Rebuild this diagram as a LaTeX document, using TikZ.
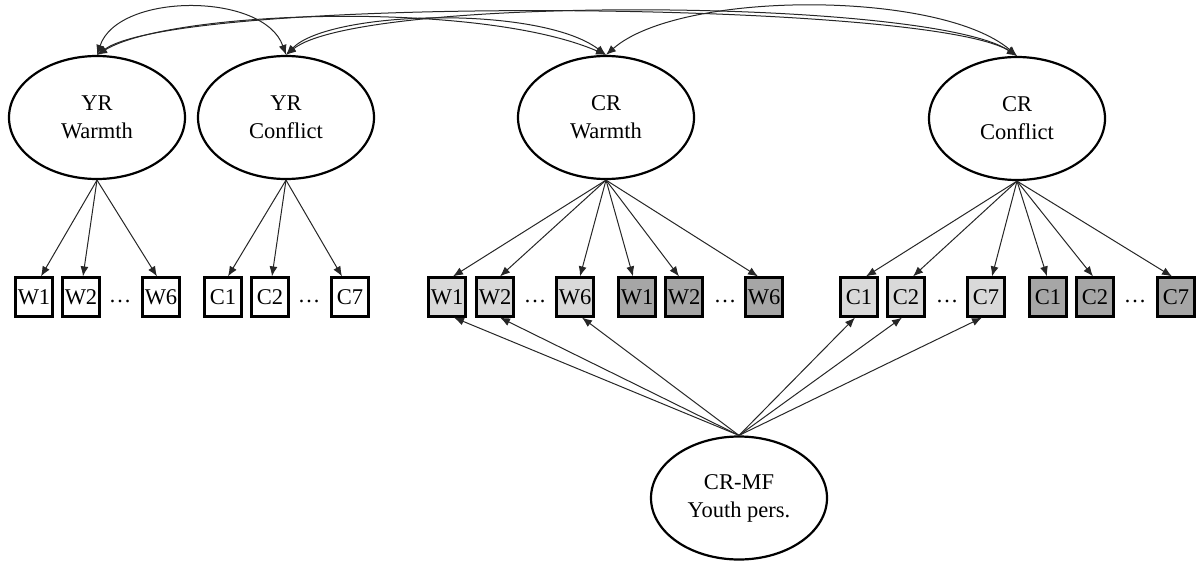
\documentclass[tikz,border=0pt]{standalone}
\usepackage{fontspec}
\setmainfont{Liberation Serif}
\usetikzlibrary{shapes.geometric,arrows.meta}
\definecolor{lightbox}{HTML}{D9D9D9}
\definecolor{darkbox}{HTML}{A6A6A6}
\begin{document}
\begin{tikzpicture}[x=1pt,y=-1pt,
  latent/.style={ellipse,draw,line width=2.2pt,minimum width=176pt,minimum height=123pt,inner sep=0pt,align=center,font=\fontsize{22.5}{28}\selectfont},
  ind/.style={rectangle,draw,line width=2.2pt,minimum width=37pt,minimum height=39pt,inner sep=0pt,font=\fontsize{22.5}{27}\selectfont},
  lind/.style={ind,fill=lightbox},
  dind/.style={ind,fill=darkbox},
  dotsnode/.style={inner sep=0pt,font=\fontsize{22.5}{27}\selectfont},
  load/.style={-{Latex[length=10pt,width=8pt]},line width=1pt,draw=black!85},
  cov/.style={{Latex[length=10pt,width=8pt]}-{Latex[length=10pt,width=8pt]},line width=1pt,draw=black!85}
]
\useasboundingbox (0,0) rectangle (1198,562);

% latent variables
\node[latent] (A) at (97,117.5) {YR\\Warmth};
\node[latent] (B) at (286,117.5) {YR\\Conflict};
\node[latent] (C) at (606,117.5) {CR\\Warmth};
\node[latent] (D) at (1017,118.5) {CR\\Conflict};
\node[latent] (M) at (739,498) {CR-MF\\Youth pers.};

% indicators
\node[ind] (yw1) at (34,297) {W1};
\node[ind] (yw2) at (81,297) {W2};
\node[dotsnode] (ywd) at (120,301) {…};
\node[ind] (yw6) at (161,297) {W6};
\node[ind] (yc1) at (223,297) {C1};
\node[ind] (yc2) at (270,297) {C2};
\node[dotsnode] (ycd) at (309,301) {…};
\node[ind] (yc7) at (350,297) {C7};

\node[lind] (lw1) at (447,297) {W1};
\node[lind] (lw2) at (495,297) {W2};
\node[dotsnode] (lwd) at (535,301) {…};
\node[lind] (lw6) at (575,297) {W6};
\node[dind] (dw1) at (637,297) {W1};
\node[dind] (dw2) at (684,297) {W2};
\node[dotsnode] (dwd) at (725,301) {…};
\node[dind] (dw6) at (764,297) {W6};

\node[lind] (lc1) at (859,297) {C1};
\node[lind] (lc2) at (906,297) {C2};
\node[dotsnode] (lcd) at (947,301) {…};
\node[lind] (lc7) at (986,297) {C7};
\node[dind] (dc1) at (1048,297) {C1};
\node[dind] (dc2) at (1095,297) {C2};
\node[dotsnode] (dcd) at (1135,301) {…};
\node[dind] (dc7) at (1176,297) {C7};

% loadings
\draw[load] (A.south) -- ([xshift=7pt]yw1.north);
\draw[load] (A.south) -- ([xshift=2pt]yw2.north);
\draw[load] (A.south) -- ([xshift=-4pt]yw6.north);
\draw[load] (B.south) -- ([xshift=5pt]yc1.north);
\draw[load] (B.south) -- ([xshift=2pt]yc2.north);
\draw[load] (B.south) -- ([xshift=-8pt]yc7.north);

\draw[load] (C.south) -- ([xshift=6pt]lw1.north);
\draw[load] (C.south) -- ([xshift=5pt]lw2.north);
\draw[load] (C.south) -- ([xshift=5pt]lw6.north);
\draw[load] (C.south) -- ([xshift=-4pt]dw1.north);
\draw[load] (C.south) -- ([xshift=-5pt]dw2.north);
\draw[load] (C.south) -- ([xshift=-6pt]dw6.north);

\draw[load] (D.south) -- ([xshift=7pt]lc1.north);
\draw[load] (D.south) -- ([xshift=7pt]lc2.north);
\draw[load] (D.south) -- ([xshift=6pt]lc7.north);
\draw[load] (D.south) -- ([xshift=-1pt]dc1.north);
\draw[load] (D.south) -- ([xshift=-2pt]dc2.north);
\draw[load] (D.south) -- ([xshift=-4pt]dc7.north);

% method factor
\draw[load] (M.north) -- ([xshift=7pt]lw1.south);
\draw[load] (M.north) -- ([xshift=5pt]lw2.south);
\draw[load] (M.north) -- ([xshift=7pt]lw6.south);
\draw[load] (M.north) -- ([xshift=-4pt]lc1.south);
\draw[load] (M.north) -- ([xshift=-4pt]lc2.south);
\draw[load] (M.north) -- ([xshift=-4pt]lc7.south);

% covariances
\draw[cov] (A.north) .. controls (118,-8) and (264,-8) .. (B.north);
\draw[cov] (A.north) .. controls (170,10) and (480,0) .. (C.north);
\draw[cov] (A.north) .. controls (180,-5) and (930,0) .. (D.north);
\draw[cov] (B.north) .. controls (330,10) and (540,5) .. (C.north);
\draw[cov] (B.north) .. controls (360,-5) and (930,-2) .. (D.north);
\draw[cov] (C.north) .. controls (680,-10) and (940,-10) .. (D.north);
\end{tikzpicture}
\end{document}
